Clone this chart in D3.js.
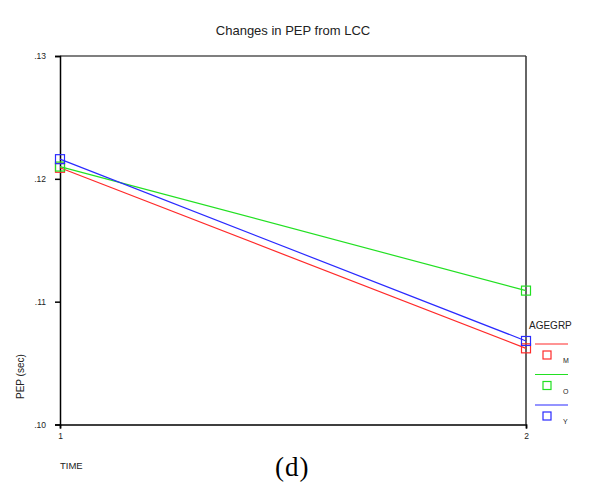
<!DOCTYPE html>
<html>
<head>
<meta charset="utf-8">
<script src="https://cdn.jsdelivr.net/npm/d3@7"></script>
<style>
  body { margin: 0; background: #fff; overflow: hidden; }
  svg { font-family: Arial, "Liberation Sans", sans-serif; }
</style>
</head>
<body>
<svg id="chart" width="589" height="482"></svg>
<script>
// data
var times = [1, 2];
var groups = ["M", "O", "Y"];
var groupColors = ["#ff2a2a", "#22e022", "#2a2aff"];
var pepM = [0.1209, 0.1062];
var pepO = [0.1210, 0.1109];
var pepY = [0.1216, 0.1068];
var yTicks = [0.10, 0.11, 0.12, 0.13];
var yTickLabels = [".10", ".11", ".12", ".13"];

var series = [pepM, pepO, pepY];

var svg = d3.select('#chart');

// plot box (note: "top" is reserved on window, so use plot* names)
var plotLeft = 60, plotRight = 526, plotTop = 56, plotBottom = 424.5;

var x = d3.scaleLinear().domain([1, 2]).range([plotLeft, plotRight]);
var y = d3.scaleLinear().domain([0.10, 0.13]).range([plotBottom, plotTop]);

// title
svg.append('text')
  .attr('x', 293).attr('y', 35)
  .attr('text-anchor', 'middle')
  .style('font-size', '13px')
  .attr('fill', '#222')
  .text('Changes in PEP from LCC');

// frame: top and right are grey-ish, left and bottom axes black
svg.append('line').attr('x1', plotLeft).attr('x2', plotRight).attr('y1', plotTop).attr('y2', plotTop)
  .attr('stroke', '#555').attr('stroke-width', 1.5);
svg.append('line').attr('x1', plotRight).attr('x2', plotRight).attr('y1', plotTop).attr('y2', plotBottom)
  .attr('stroke', '#333').attr('stroke-width', 1.5);

var yAxis = d3.axisLeft(y)
  .tickValues(yTicks)
  .tickFormat(function(d, i) { return yTickLabels[i]; })
  .tickSize(5)
  .tickPadding(9);

var gy = svg.append('g')
  .attr('transform', 'translate(' + plotLeft + ',0)')
  .call(yAxis);
gy.attr('font-family', null);
gy.select('.domain').attr('stroke', '#000').attr('stroke-width', 1.5);
gy.selectAll('.tick line').attr('stroke', '#000').attr('stroke-width', 1.5);
gy.selectAll('.tick text').style('font-size', '8.5px').attr('fill', '#222');

var xAxis = d3.axisBottom(x)
  .tickValues(times)
  .tickFormat(d3.format('d'))
  .tickSize(4)
  .tickPadding(4);

var gx = svg.append('g')
  .attr('transform', 'translate(0,' + plotBottom + ')')
  .call(xAxis);
gx.attr('font-family', null);
gx.select('.domain').attr('stroke', '#000').attr('stroke-width', 1.5);
gx.selectAll('.tick line').attr('stroke', '#000').attr('stroke-width', 1.5);
gx.selectAll('.tick text').style('font-size', '8.5px').attr('fill', '#222');

// axis titles
svg.append('text')
  .attr('x', 60).attr('y', 469)
  .style('font-size', '9.5px')
  .attr('fill', '#222')
  .text('TIME');

svg.append('text')
  .attr('transform', 'translate(24,399) rotate(-90)')
  .style('font-size', '10px')
  .attr('fill', '#222')
  .text('PEP (sec)');

// lines and square markers
var line = d3.line()
  .x(function(d, i) { return x(times[i]); })
  .y(function(d) { return y(d); });

series.forEach(function(vals, k) {
  svg.append('path')
    .datum(vals)
    .attr('d', line)
    .attr('fill', 'none')
    .attr('stroke', groupColors[k])
    .attr('stroke-width', 1.2);

  svg.selectAll('.pt' + k)
    .data(vals)
    .enter()
    .append('rect')
    .attr('class', 'pt' + k)
    .attr('x', function(d, i) { return x(times[i]) - 4.5; })
    .attr('y', function(d) { return y(d) - 4.5; })
    .attr('width', 9).attr('height', 9)
    .attr('fill', 'none')
    .attr('stroke', groupColors[k])
    .attr('stroke-width', 1.2);
});

// legend
svg.append('text')
  .attr('x', 529).attr('y', 329)
  .style('font-size', '10px')
  .attr('fill', '#222')
  .text('AGEGRP');

groups.forEach(function(g, k) {
  var ly = 344 + k * 30.5;
  svg.append('line')
    .attr('x1', 535).attr('x2', 568)
    .attr('y1', ly).attr('y2', ly)
    .attr('stroke', groupColors[k]).attr('stroke-width', 1.2);
  svg.append('rect')
    .attr('x', 543).attr('y', ly + 7)
    .attr('width', 8).attr('height', 8)
    .attr('fill', 'none')
    .attr('stroke', groupColors[k]).attr('stroke-width', 1.2);
  svg.append('text')
    .attr('x', 563).attr('y', ly + 19)
    .style('font-size', '7px')
    .attr('fill', '#222')
    .text(g);
});

// panel label
svg.append('text')
  .attr('x', 275).attr('y', 476)
  .style('font-family', '"Liberation Serif", "DejaVu Serif", serif')
  .style('font-size', '27px')
  .style('letter-spacing', '1px')
  .attr('fill', '#000')
  .text('(d)');
</script>
</body>
</html>
